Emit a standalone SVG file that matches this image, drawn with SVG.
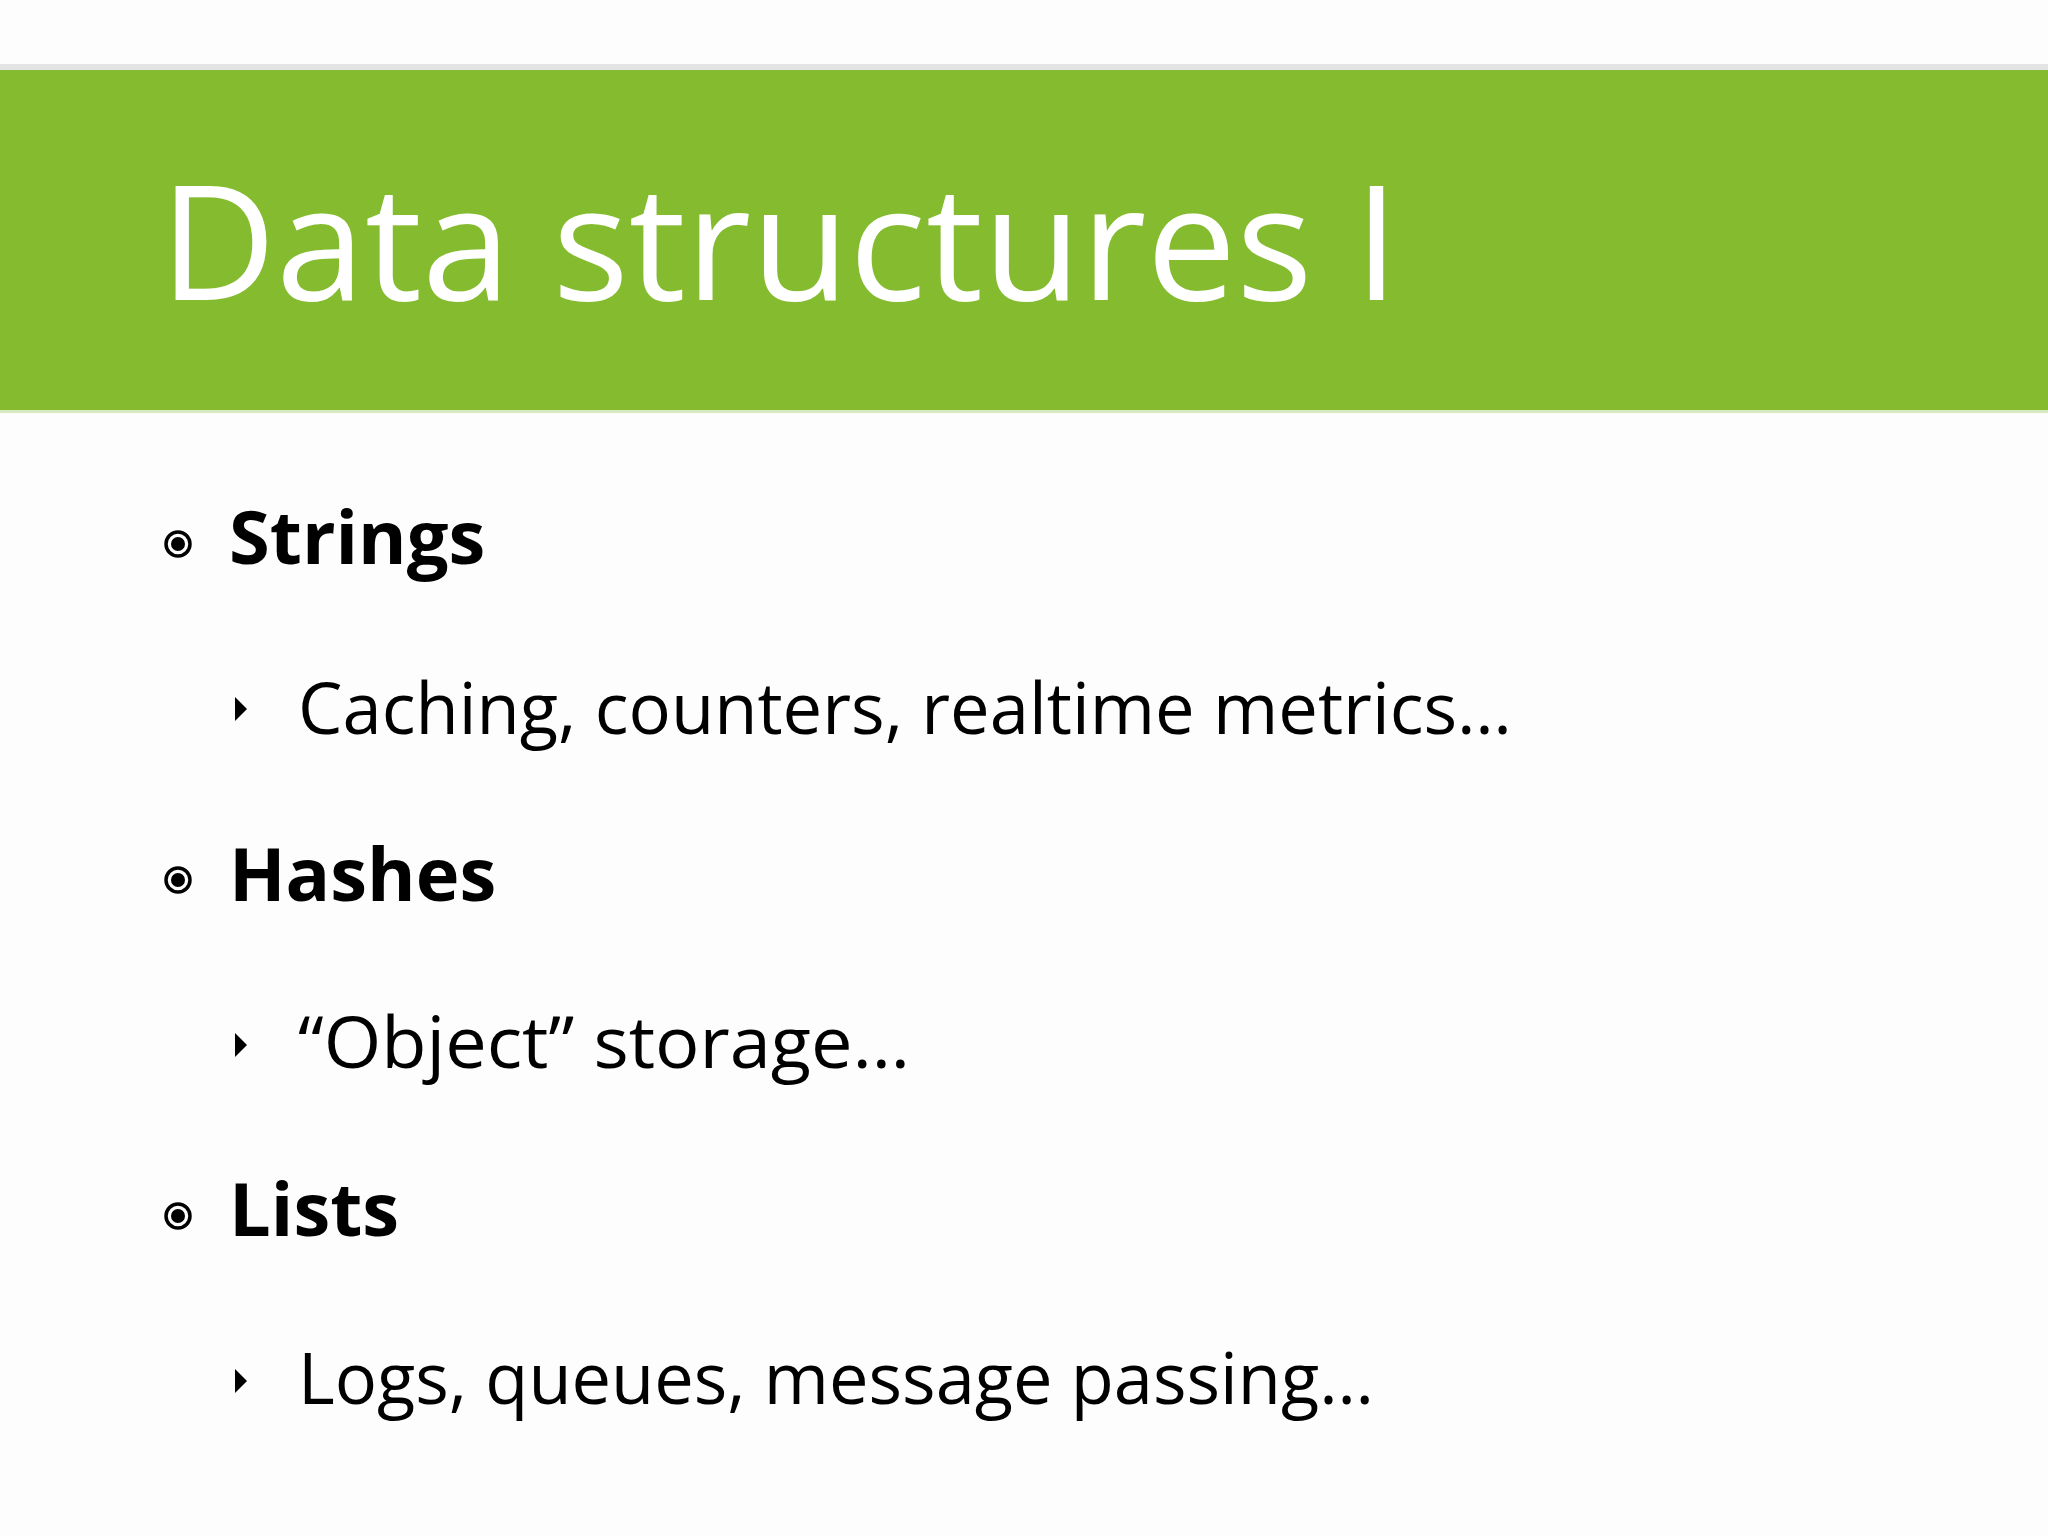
<svg xmlns="http://www.w3.org/2000/svg" width="2048" height="1536" viewBox="0 0 2048 1536">
<style>
.t{font-family:"Open Sans","Liberation Sans",sans-serif;fill:#000}
.b{font-weight:bold;font-size:74px}
.s{font-size:72px}
</style>
<rect width="2048" height="1536" fill="#fdfdfd"/>
<rect x="0" y="64" width="2048" height="6" fill="#e4e4e4"/>
<rect x="0" y="70" width="2048" height="340" fill="#84bb2f"/>
<rect x="0" y="410" width="2048" height="3" fill="#d8e8c0"/>
<text x="160" y="300" font-family="'Open Sans','Liberation Sans',sans-serif" font-size="160" fill="#fff">Data structures I</text>
<g id="strings">
<circle cx="178" cy="544" r="12" fill="none" stroke="#000" stroke-width="3.5"/><circle cx="178" cy="544" r="7" fill="#000"/>
<text class="t b" x="229" y="564">Strings</text>
<path d="M235 697 L247 709 L235 721 Z" fill="#000"/>
<text class="t s" x="298" y="734" textLength="1214" lengthAdjust="spacingAndGlyphs">Caching, counters, realtime metrics…</text>
</g>
<g id="hashes">
<circle cx="178" cy="880" r="12" fill="none" stroke="#000" stroke-width="3.5"/><circle cx="178" cy="880" r="7" fill="#000"/>
<text class="t b" x="229" y="901">Hashes</text>
<path d="M235 1033 L247 1045 L235 1057 Z" fill="#000"/>
<text class="t s" x="298" y="1068" textLength="612" lengthAdjust="spacingAndGlyphs">“Object” storage…</text>
</g>
<g id="lists">
<circle cx="178" cy="1216" r="12" fill="none" stroke="#000" stroke-width="3.5"/><circle cx="178" cy="1216" r="7" fill="#000"/>
<text class="t b" x="229" y="1236">Lists</text>
<path d="M235 1369 L247 1381 L235 1393 Z" fill="#000"/>
<text class="t s" x="298" y="1404" textLength="1076" lengthAdjust="spacingAndGlyphs">Logs, queues, message passing…</text>
</g>
</svg>
